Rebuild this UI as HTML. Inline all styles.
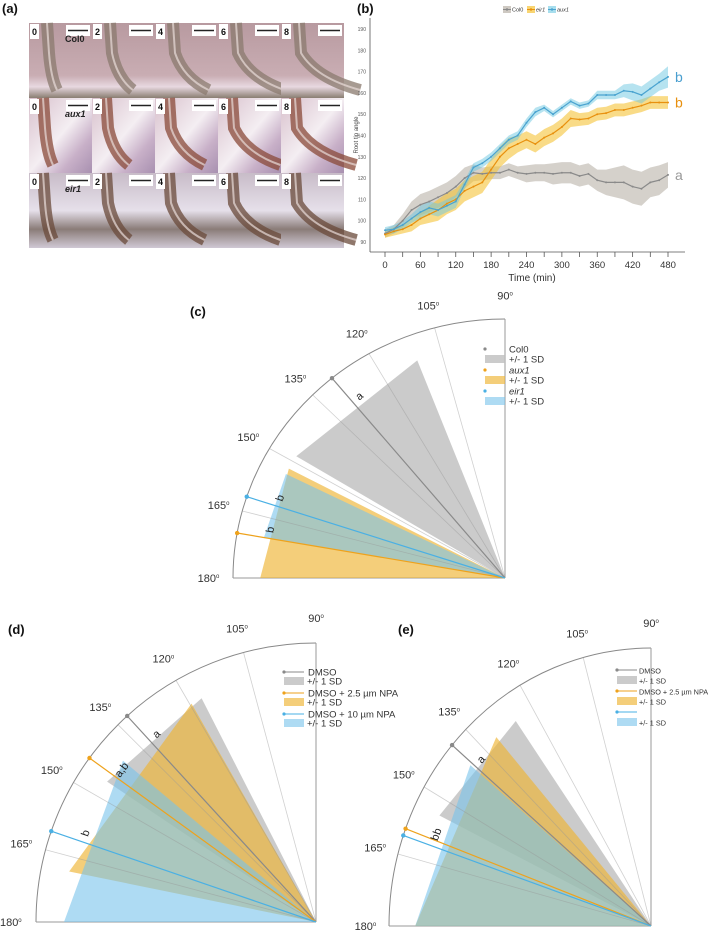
<!DOCTYPE html>
<html><head><meta charset="utf-8"><style>
html,body{margin:0;padding:0;background:#fff;}
svg{display:block;font-family:"Liberation Sans",sans-serif;}
</style></head><body>
<svg id="fig" width="709" height="932" viewBox="0 0 709 932" xmlns="http://www.w3.org/2000/svg">
<defs>
<linearGradient id="gCol" x1="0" y1="0" x2="0" y2="1"><stop offset="0" stop-color="#b89aa0"/><stop offset="0.7" stop-color="#c9adb3"/><stop offset="0.85" stop-color="#e8d8e0"/><stop offset="1" stop-color="#8a7e72"/></linearGradient>
<linearGradient id="gAux" x1="0" y1="0" x2="1" y2="1"><stop offset="0" stop-color="#d8c0cc"/><stop offset="0.5" stop-color="#f4eef2"/><stop offset="0.75" stop-color="#c8b0c8"/><stop offset="1" stop-color="#a890b0"/></linearGradient>
<linearGradient id="gEir" x1="0" y1="0" x2="0" y2="1"><stop offset="0" stop-color="#c8bcc8"/><stop offset="0.5" stop-color="#e6e0ea"/><stop offset="0.75" stop-color="#8a7c78"/><stop offset="1" stop-color="#d0c8d4"/></linearGradient>
</defs>
<g id="panelA"></g>
<g id="panelB"></g>
<g id="panelC"></g>
<g id="panelD"></g>
<g id="panelE"></g>
</svg>
<script>
// ---------- Panel (b) data ----------
const times = [0,15,30,45,60,75,90,105,120,135,150,165,180,195,210,225,240,255,270,285,300,315,330,345,360,375,390,405,420,435,450,465,480];
const col0 = [94,96,100,105,107.5,109,111,113,116,120,122.5,122,122.5,122.5,124,122.5,122,122.5,122.5,122,122.5,122.5,121,122,119,118,118,118,116,115,118,119,121.5];
const col0SD = [2,2,3,4,5,5,5,5,5,5,4,3,3,3,3,3,4,4,4,5,5,5,5,5,5,6,7,8,8,8,7,7,6];
const eir1 = [93.5,95,96,98,101,103,105,108,110,114,116,118,124,130,134,136,138,136,139,141,144,148,147.5,148,150,150.5,152,152,153,154,155.5,155.5,155.5];
const eir1SD = [1.5,2,2,3,3,4,5,5,5,5,5,5,5,5,5,4,4,4,4,4,4,4,3,3,3,3,3,3,3,3,3,3,3];
const aux1 = [95.5,96,98,101,104,106,105,107,109,117,125,127,130,134,138,140,146,151,153,150,153,156,154,155,159,159,159,161,160.5,159,162,165,167.5];
const aux1SD = [1.5,2,2,2,3,3,3,3,3,2,2,2,2,2,2,2,2,2,1.5,1.5,1.5,1.5,1.5,1.5,2,2,2,3,4,4,4,4,5];
const yTicks = [90,100,110,120,130,140,150,160,170,180,190];
const xTicks = [0,60,120,180,240,300,360,420,480];

// ---------- Polar panel data ----------
const cMeans = [129.5,170,161.7];
const cLow = [111,152,153.5];
const cHigh = [148.5,180,170];
const cLetters = ['a','b','b'];
const dMeans = [132.4,144,161];
const dLow = [117,119.6,140];
const dHigh = [146,168.4,180];
const dLetters = ['a','a,b','b'];
const eMeans = [139.4,159.5,161];
const eLow = [125,131,140];
const eHigh = [153.8,180,180];
const eLetters = ['a','b','b'];
const polarTicks = [90,105,120,135,150,165,180];

const NS='http://www.w3.org/2000/svg';
function mk(parent, tag, attrs, txt){
  const e=document.createElementNS(NS,tag);
  for(const k in attrs) e.setAttribute(k,attrs[k]);
  if(txt!==undefined) e.textContent=txt;
  parent.appendChild(e); return e;
}

// ---------- Panel (a) ----------
(function(){
  const g=document.getElementById('panelA');
  const t=mk(g,'text',{x:2,y:13,'font-size':13,'font-weight':'bold',fill:'#111'},'(a)');
  
  
  const rows=[{grad:'gCol',name:'Col0',root:'#8a7a6e'},{grad:'gAux',name:'aux1',root:'#8a4a38'},{grad:'gEir',name:'eir1',root:'#6a4a3a'}];
  const labels=['0','2','4','6','8'];
  const x0=29,y0=23,w=63,h=75;
  rows.forEach((r,ri)=>{
    labels.forEach((l,ci)=>{
      const x=x0+ci*w, y=y0+ri*h;
      const cell=mk(g,'g',{});
      
      
      mk(cell,'rect',{x:x,y:y,width:w,height:h,fill:'url(#'+r.grad+')'});
      const bend=ci*8;
      const bx=x+18+(ri===0?0:-4);
      mk(cell,'path',{d:`M${bx} ${y} L${bx+2} ${y+30} Q${bx+4+bend*0.4} ${y+55} ${bx+10+bend*1.6} ${y+h-8}`,stroke:r.root,'stroke-width':12,fill:'none',opacity:0.75});
      mk(cell,'path',{d:`M${bx} ${y} L${bx+2} ${y+30} Q${bx+4+bend*0.4} ${y+55} ${bx+10+bend*1.6} ${y+h-8}`,stroke:'#e8dcd8','stroke-width':2,fill:'none',opacity:0.7});
      mk(cell,'rect',{x:x+1,y:y+1,width:9,height:15,fill:'#fff'});
      mk(cell,'text',{x:x+3,y:y+12,'font-size':9,'font-weight':'bold',fill:'#111'},l);
      mk(cell,'rect',{x:x+37,y:y+2,width:24,height:11,fill:'#fff'});
      mk(cell,'line',{x1:x+39,y1:y+7.5,x2:x+59,y2:y+7.5,stroke:'#222','stroke-width':1.5});
    });
  });
  rows.forEach((r,ri)=>{
    const lt=mk(g,'text',{x:x0+36,y:y0+ri*h+19,'font-size':9,'font-weight':'bold','font-style':ri?'italic':'normal',fill:'#222'},r.name);
    
    
  });
})();

// ---------- Panel (b) ----------
(function(){
  const g=document.getElementById('panelB');
  const X0=385,X1=668,Y190=29,Y90=242;
  const xs=v=>X0+(v-0)/(480)*(X1-X0);
  const ys=v=>Y90-(v-90)/100*(Y90-Y190);
  const t=mk(g,'text',{x:357,y:13,'font-size':13,'font-weight':'bold',fill:'#111'},'(b)');
  
  
  const ax=mk(g,'line',{x1:370,y1:18,x2:370,y2:252,stroke:'#555','stroke-width':0.8});
  
  
  const bx=mk(g,'line',{x1:370,y1:252,x2:685,y2:252,stroke:'#555','stroke-width':0.8});
  
  
  yTicks.forEach(v=>{
    const tl=mk(g,'text',{x:366,y:ys(v)+2,'font-size':5,fill:'#555','text-anchor':'end'},v);
    
    
  });
  for(let v=0;v<=480;v+=30){ mk(g,'line',{x1:xs(v),y1:252,x2:xs(v),y2:257,stroke:'#555','stroke-width':0.8}); }
  xTicks.forEach(v=>{
    const tl=mk(g,'text',{x:xs(v),y:268,'font-size':9.5,fill:'#333','text-anchor':'middle'},v);
    
    
  });
  const xt=mk(g,'text',{x:532,y:281,'font-size':10,fill:'#333','text-anchor':'middle'},'Time (min)');
  
  
  const yt=mk(g,'text',{x:0,y:0,'font-size':6,fill:'#444','text-anchor':'middle',transform:'translate(358,135) rotate(-90)'},'Root tip angle');
  
  
  const series=[
    {n:'col0',v:col0,sd:col0SD,band:'rgba(185,178,168,0.6)',line:'#8a8a8a',lab:'a',lc:'#999'},
    {n:'eir1',v:eir1,sd:eir1SD,band:'rgba(245,195,55,0.6)',line:'#e8900e',lab:'b',lc:'#e8900e'},
    {n:'aux1',v:aux1,sd:aux1SD,band:'rgba(110,200,225,0.5)',line:'#4aa3d0',lab:'b',lc:'#4a9fd0'}
  ];
  series.forEach(s=>{
    let up=times.map((t,i)=>xs(t)+','+ys(s.v[i]+s.sd[i]));
    let dn=times.map((t,i)=>xs(t)+','+ys(s.v[i]-s.sd[i])).reverse();
    const b=mk(g,'polygon',{points:up.concat(dn).join(' '),fill:s.band});
    
    
  });
  series.forEach(s=>{
    const l=mk(g,'polyline',{points:times.map((t,i)=>xs(t)+','+ys(s.v[i])).join(' '),fill:'none',stroke:s.line,'stroke-width':1.2});
    
    
    times.forEach((t,i)=>{
      const p=mk(g,'circle',{cx:xs(t),cy:ys(s.v[i]),r:1,fill:s.line});
      
      
    });
    const lt=mk(g,'text',{x:xs(480)+7,y:ys(s.v[s.v.length-1])+5,'font-size':14,fill:s.lc},s.lab);
    
    
  });
  const lg=mk(g,'g',{});
  
  
  const leg=[['Col0','#8a8a8a','rgba(185,178,168,0.7)',506],['eir1','#e8900e','rgba(245,195,55,0.7)',530],['aux1','#4aa3d0','rgba(110,200,225,0.6)',551]];
  leg.forEach(l=>{
    const e=mk(lg,'g',{});
    
    
    mk(e,'rect',{x:l[3]-3,y:6,width:8,height:7,fill:l[2]});
    mk(e,'line',{x1:l[3]-3,y1:9.5,x2:l[3]+5,y2:9.5,stroke:l[1],'stroke-width':1});
    mk(e,'circle',{cx:l[3]+1,cy:9.5,r:1.2,fill:l[1]});
    mk(e,'text',{x:l[3]+6,y:11.5,'font-size':5.5,fill:'#333','font-style':l[0]==='Col0'?'normal':'italic'},l[0]);
  });
})();

// ---------- Polar panels ----------
function polar(gid,label,lx,ly,cx,cy,rx,ry,means,low,high,letters,legend){
  const g=document.getElementById(gid);
  const P=(a,r)=>{const t=a*Math.PI/180;return [cx+Math.cos(t)*rx*r, cy-Math.sin(t)*ry*r];};
  const t=mk(g,'text',{x:lx,y:ly,'font-size':13,'font-weight':'bold',fill:'#111'},label);
  
  
  const a0=P(90,1),a1=P(180,1);
  const arc=mk(g,'path',{d:`M${a0[0]} ${a0[1]} A${rx} ${ry} 0 0 0 ${a1[0]} ${a1[1]}`,fill:'none',stroke:'#888','stroke-width':1});
  
  
  mk(g,'line',{x1:cx,y1:cy,x2:a0[0],y2:a0[1],stroke:'#999','stroke-width':1});
  mk(g,'line',{x1:cx,y1:cy,x2:a1[0],y2:a1[1],stroke:'#999','stroke-width':1});
  const fills=['rgba(190,190,190,0.8)','rgba(238,180,50,0.65)','rgba(120,195,235,0.6)'];
  const strokes=['#8a8a8a','#eea21c','#4ab0e4'];
  const names=['group1','group2','group3'];
  means.forEach((m,i)=>{
    const p1=P(low[i],0.9),p2=P(high[i],0.9);
    const w=mk(g,'polygon',{points:`${cx},${cy} ${p1[0]},${p1[1]} ${p2[0]},${p2[1]}`,fill:fills[i]});
    
    
  });
  polarTicks.forEach(a=>{
    if(a!==90&&a!==180){const p=P(a,1);mk(g,'line',{x1:cx,y1:cy,x2:p[0],y2:p[1],stroke:'rgba(150,150,150,0.45)','stroke-width':0.8});}
    const q=P(a,1.09);
    const tl=mk(g,'text',{x:q[0],y:q[1]+4,'font-size':11,fill:'#333','text-anchor':'middle'},a);
    
    
    mk(tl,'tspan',{'font-size':6,dy:-4},'o');
  });
  means.forEach((m,i)=>{
    const p=P(m,1);
    const l=mk(g,'line',{x1:cx,y1:cy,x2:p[0],y2:p[1],stroke:strokes[i],'stroke-width':1.2});
    
    
    const d=mk(g,'circle',{cx:p[0],cy:p[1],r:2.2,fill:strokes[i]});
    
    
    const q=P(m-2.2,0.87);
    const lt=mk(g,'text',{x:q[0],y:q[1],'font-size':11,fill:'#222','text-anchor':'middle',transform:`rotate(${90-m} ${q[0]} ${q[1]})`},letters[i]);
    
    
  });
  const lg=mk(g,'g',{});
  
  
  legend.rows.forEach((r,i)=>{
    const y=legend.y+i*legend.dy;
    const e=mk(lg,'g',{});
    
    
    if(legend.lines) mk(e,'line',{x1:legend.x,y1:y,x2:legend.x+20,y2:y,stroke:strokes[i],'stroke-width':1});
    mk(e,'circle',{cx:legend.x,cy:y,r:1.6,fill:strokes[i]});
    mk(e,'text',{x:legend.tx,y:y+3.5,'font-size':legend.fs,fill:'#333','font-style':r[1]?'italic':'normal'},r[0]);
    mk(e,'rect',{x:legend.x,y:y+legend.rdy-4,width:20,height:8,fill:fills[i]});
    mk(e,'text',{x:legend.tx2,y:y+legend.rdy+3.5,'font-size':legend.fs,fill:'#333'},'+/- 1 SD');
  });
}
polar('panelC','(c)',190,316,505,578,272,259,cMeans,cLow,cHigh,cLetters,
  {x:485,tx:509,tx2:509,y:349,dy:21,rdy:10,fs:9.5,lines:false,rows:[['Col0',false],['aux1',true],['eir1',true]]});
polar('panelD','(d)',8,634,316,922,280,279,dMeans,dLow,dHigh,dLetters,
  {x:284,tx:308,tx2:307,y:672,dy:21,rdy:9,fs:9.5,lines:true,rows:[['DMSO',false],['DMSO + 2.5 µm NPA',false],['DMSO + 10 µm NPA',false]]});
polar('panelE','(e)',398,634,651,926,262,278,eMeans,eLow,eHigh,eLetters,
  {x:617,tx:639,tx2:639,y:670,dy:21,rdy:10,fs:7.3,lines:true,rows:[['DMSO',false],['DMSO + 2.5 µm NPA',false],['',false]]});
</script>
</body></html>
